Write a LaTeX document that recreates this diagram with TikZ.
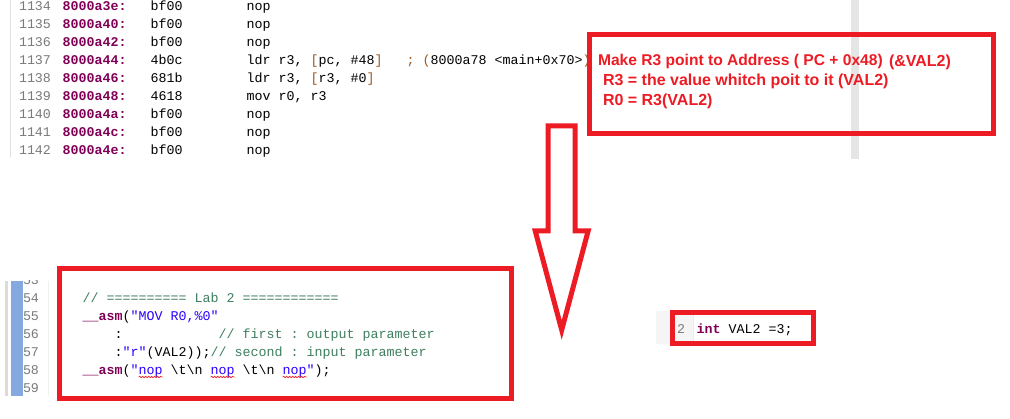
\documentclass[tikz,border=0pt]{standalone}
\usepackage{fontspec}
\setmainfont{Liberation Sans}
\setmonofont{Liberation Mono}
\usetikzlibrary{decorations.pathmorphing}
\definecolor{pred}{HTML}{ED1C24}
\definecolor{kw}{HTML}{7F0055}
\definecolor{cmt}{HTML}{3F7F5F}
\definecolor{str}{HTML}{2A00FF}
\definecolor{lnum}{HTML}{7A7A7A}
\definecolor{brk}{HTML}{A0581E}
\definecolor{gutblue}{HTML}{86A8E0}
\newcommand\mkaddr[1]{\textcolor{kw}{\bfseries #1}}
\newcommand\mkkw[1]{\textcolor{kw}{\bfseries #1}}
\newcommand\bsl{\textbackslash}
\frenchspacing
\begin{document}
\begin{tikzpicture}[x=1pt,y=-1pt,
  code/.style={anchor=base west,inner sep=0pt,outer sep=0pt,font=\ttfamily\fontsize{13.33}{16}\selectfont},
  lno/.style={code,anchor=base east,text=lnum},
  note/.style={anchor=base west,inner sep=0pt,outer sep=0pt,text=pred,font=\bfseries\fontsize{16}{19}\selectfont},
  redbox/.style={draw=pred,line width=5pt},
  squig/.style={draw=pred,line width=0.6pt,decorate,decoration={snake,amplitude=0.8pt,segment length=3pt}},
]
% canvas
\fill[white] (0,0) rectangle (1010,419);
\useasboundingbox (0,0) rectangle (1010,419);

% ---------- top disassembly screenshot ----------
\fill[black!10] (851,0) rectangle (859,159);
\draw[black!12,line width=1.5pt] (10.7,0) -- (10.7,157);

\node[lno] (n1134) at (51,10.2)  {1134};
\node[lno] (n1135) at (51,28.2)  {1135};
\node[lno] (n1136) at (51,46.2)  {1136};
\node[lno] (n1137) at (51,64.2)  {1137};
\node[lno] (n1138) at (51,82.2)  {1138};
\node[lno] (n1139) at (51,100.2) {1139};
\node[lno] (n1140) at (51,118.2) {1140};
\node[lno] (n1141) at (51,136.2) {1141};
\node[lno] (n1142) at (51,154.2) {1142};

\node[code] (c1134) at (62.7,10.2)  {\mkaddr{8000a3e:}\ \ \ bf00\ \ \ \ \ \ \ \ nop};
\node[code] (c1135) at (62.7,28.2)  {\mkaddr{8000a40:}\ \ \ bf00\ \ \ \ \ \ \ \ nop};
\node[code] (c1136) at (62.7,46.2)  {\mkaddr{8000a42:}\ \ \ bf00\ \ \ \ \ \ \ \ nop};
\node[code] (c1137) at (62.7,64.2)  {\mkaddr{8000a44:}\ \ \ 4b0c\ \ \ \ \ \ \ \ ldr r3, \textcolor{brk}{[}pc, \#48\textcolor{brk}{]}\ \ \ \textcolor{brk}{;} \textcolor{brk}{(}8000a78 <main+0x70>\textcolor{brk}{)}};
\node[code] (c1138) at (62.7,82.2)  {\mkaddr{8000a46:}\ \ \ 681b\ \ \ \ \ \ \ \ ldr r3, \textcolor{brk}{[}r3, \#0\textcolor{brk}{]}};
\node[code] (c1139) at (62.7,100.2) {\mkaddr{8000a48:}\ \ \ 4618\ \ \ \ \ \ \ \ mov r0, r3};
\node[code] (c1140) at (62.7,118.2) {\mkaddr{8000a4a:}\ \ \ bf00\ \ \ \ \ \ \ \ nop};
\node[code] (c1141) at (62.7,136.2) {\mkaddr{8000a4c:}\ \ \ bf00\ \ \ \ \ \ \ \ nop};
\node[code] (c1142) at (62.7,154.2) {\mkaddr{8000a4e:}\ \ \ bf00\ \ \ \ \ \ \ \ nop};

% ---------- note box ----------
\node[note,font=\bfseries\fontsize{15.6}{19}\selectfont] (note1) at (598,65.7) {Make R3 point to Address ( PC + 0x48)};
\node[note] (note1b) at (889,67) {(\&VAL2)};
\node[note] (note2) at (603,85.7) {R3 = the value whitch poit to it (VAL2)};
\node[note] (note3) at (603,106) {R0 = R3(VAL2)};
\draw[redbox] (589.5,34.8) rectangle (993.5,133.2);

% ---------- arrow ----------
\draw[redbox,line join=miter] (548.2,125.8) -- (575.2,125.8) -- (575.2,230.8) -- (588.2,230.8)
  -- (561.7,330) -- (535.2,230.8) -- (548.2,230.8) -- cycle;

% ---------- bottom source screenshot ----------
\fill[black!14] (5,280.7) rectangle (8.3,395.7);
\fill[gutblue] (11,280.7) rectangle (22.7,395.7);
\draw[black!6,line width=0.8pt] (48,280.7) -- (48,395.7);
\begin{scope}
  \clip (0,281) rectangle (60,400);
  \node[lno] (n53) at (39,284.3) {53};
\end{scope}
\node[lno] (n54) at (39,302.3) {54};
\node[lno] (n55) at (39,320.3) {55};
\node[lno] (n56) at (39,338.3) {56};
\node[lno] (n57) at (39,356.3) {57};
\node[lno] (n58) at (39,374.3) {58};
\node[lno] (n59) at (39,392.3) {59};

\node[code,text=cmt] (s54) at (82.7,302.3) {// ========== Lab 2 ============};
\node[code] (s55) at (82.7,320.3) {\mkkw{\_\_asm}(\textcolor{str}{"MOV R0,\%0"}};
\node[code] (s56) at (114.7,338.3) {:\ \ \ \ \ \ \ \ \ \ \ \ \textcolor{cmt}{// first : output parameter}};
\node[code] (s57) at (114.7,356.3) {:\textcolor{str}{"r"}(VAL2));\textcolor{cmt}{// second : input parameter}};
\node[code] (s58) at (82.7,374.3) {\mkkw{\_\_asm}(\textcolor{str}{"nop} \bsl t\bsl n \textcolor{str}{nop} \bsl t\bsl n \textcolor{str}{nop"});};
\draw[squig] (138.7,377) -- (162.7,377);
\draw[squig] (210.7,377) -- (234.7,377);
\draw[squig] (282.7,377) -- (306.7,377);
\draw[redbox] (59.2,268.5) rectangle (511.8,398.2);

% ---------- small source snippet ----------
\fill[black!4] (656,311) rectangle (693,344);
\draw[black!8,line width=0.8pt] (693,311) -- (693,344);
\node[code,text=lnum] (v2n) at (677,333.8) {2};
\node[code] (v2) at (696.7,333.8) {\mkkw{int} VAL2 =3;};
\draw[redbox] (672.5,312.2) rectangle (813.2,343.2);
\end{tikzpicture}
\end{document}
